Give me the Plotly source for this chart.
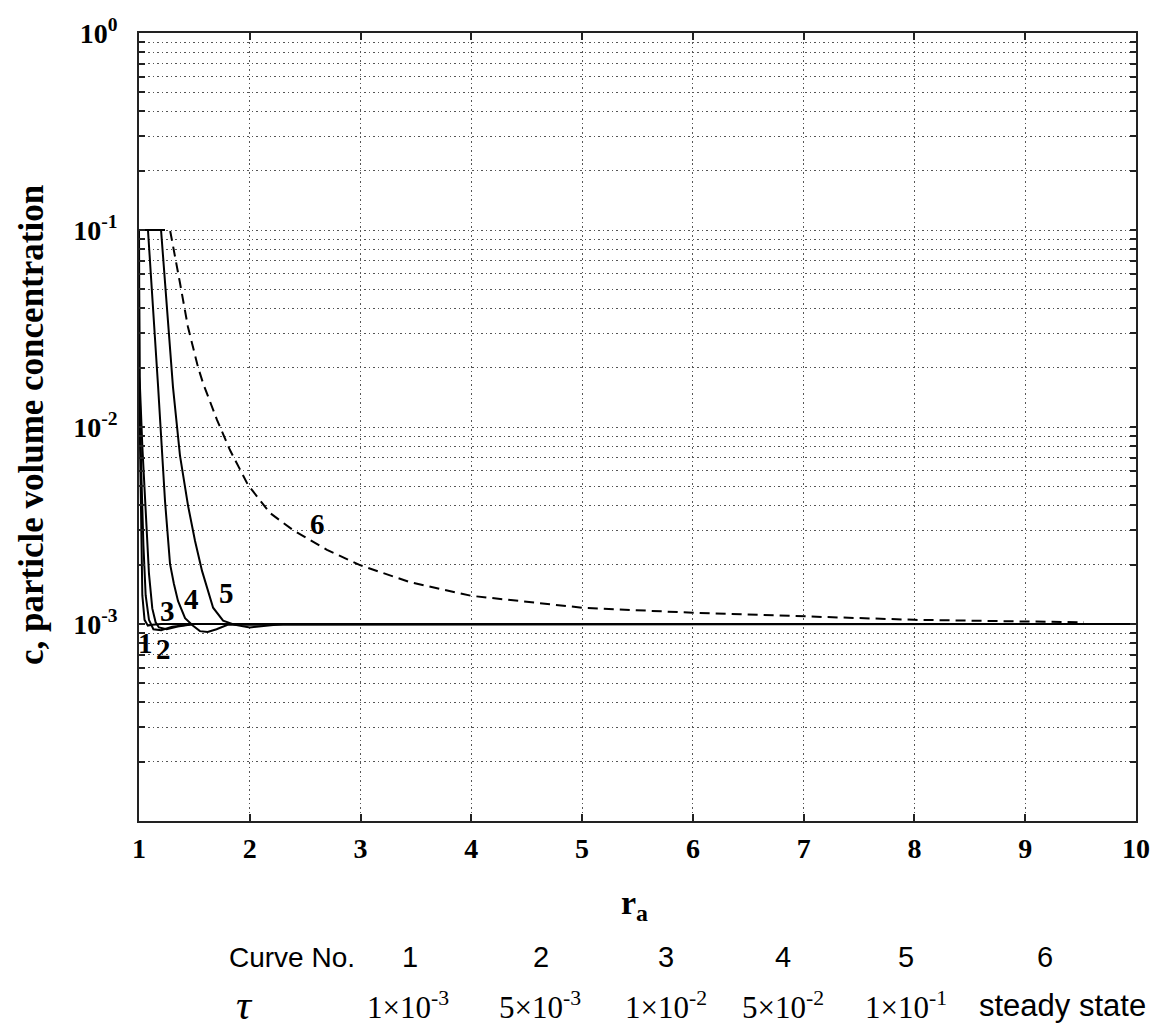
import plotly.graph_objects as go
import math

# ---- concentration profiles c(r_a) for the six cases ----
r1 = [1.0, 1.01, 1.02, 1.03, 1.05, 1.08, 1.12, 1.2, 10.0]
c1 = [0.018, 0.006, 0.0025, 0.0014, 0.00105, 0.00098, 0.00099, 0.001, 0.001]

r2 = [1.0, 1.005, 1.02, 1.04, 1.06, 1.09, 1.13, 1.2, 1.3, 1.5, 10.0]
c2 = [0.05, 0.018, 0.006, 0.0025, 0.0014, 0.00105, 0.00094, 0.00093, 0.00097, 0.001, 0.001]

r3 = [1.0, 1.005, 1.03, 1.06, 1.09, 1.12, 1.15, 1.18, 1.25, 1.35, 1.5, 10.0]
c3 = [0.1, 0.018, 0.008, 0.0035, 0.0018, 0.0012, 0.00102, 0.00096, 0.00094, 0.00097, 0.001, 0.001]

r4 = [1.0, 1.081, 1.172, 1.235, 1.28, 1.315, 1.352, 1.416, 1.488, 1.55, 1.62, 1.7, 1.8, 10.0]
c4 = [0.1, 0.1, 0.0162, 0.0042, 0.00202, 0.0016, 0.00131, 0.00107, 0.00098, 0.00092, 0.00091, 0.00094, 0.00099, 0.001]

r5 = [1.0, 1.199, 1.307, 1.37, 1.443, 1.506, 1.569, 1.669, 1.759, 1.867, 2.0, 2.3, 10.0]
c5 = [0.1, 0.1, 0.0159, 0.00716, 0.00398, 0.00264, 0.00186, 0.00121, 0.00104, 0.00099, 0.00096, 0.001, 0.001]

r6 = [1.0, 1.28, 1.37, 1.442, 1.532, 1.578, 1.704, 1.821, 1.984, 2.182, 2.39, 2.697,
      2.995, 3.446, 4.0, 4.5, 5.0, 6.0, 7.0, 8.0, 9.0, 9.53]
c6 = [0.1, 0.1, 0.0538, 0.0322, 0.0202, 0.0167, 0.01086, 0.00764, 0.00508, 0.00366, 0.0030,
      0.00238, 0.00199, 0.00163, 0.00139, 0.0013, 0.00121, 0.00114, 0.00109, 0.00105,
      0.00103, 0.00102]

curve_numbers = ["1", "2", "3", "4", "5", "6"]
tau_labels = ["1×10<sup>-3</sup>", "5×10<sup>-3</sup>", "1×10<sup>-2</sup>",
              "5×10<sup>-2</sup>", "1×10<sup>-1</sup>", "steady state"]

# curve number labels placed beside each profile (r_a, c)
label_r = [1.063, 1.217, 1.253, 1.470, 1.786, 2.608]
label_c = [8.0e-4, 7.46e-4, 1.17e-3, 1.34e-3, 1.44e-3, 3.23e-3]

x_ticks = [1, 2, 3, 4, 5, 6, 7, 8, 9, 10]
y_decades = [1e-3, 1e-2, 1e-1, 1e0]
y_decade_labels = ["10<sup>-3</sup>", "10<sup>-2</sup>", "10<sup>-1</sup>", "10<sup>0</sup>"]

# ---- figure geometry (pixels) ----
W, H = 1162, 1032
L, R, T, B = 139, 1136, 33, 821


def px_x(p):
    return (p - L) / (R - L)


def px_y(p):
    return (B - p) / (B - T)


fig = go.Figure()

profiles = [(r1, c1, "solid"), (r2, c2, "solid"), (r3, c3, "solid"),
            (r4, c4, "solid"), (r5, c5, "solid"), (r6, c6, "10px,6px")]
for r, c, dash in profiles:
    fig.add_trace(go.Scatter(x=r, y=c, mode="lines",
                             line=dict(color="black", width=2, dash=dash),
                             showlegend=False, hoverinfo="skip"))

# y ticks: every integer multiple within each decade, labels only on decades
ytickvals, yticktext = [], []
for e in range(-4, 0):
    for m in range(1, 10):
        v = m * 10.0 ** e
        ytickvals.append(v)
        lab = ""
        for d, t in zip(y_decades, y_decade_labels):
            if abs(v - d) < 1e-12:
                lab = t
        yticktext.append(lab)
ytickvals.append(1.0)
yticktext.append(y_decade_labels[-1])

serif_bold = dict(family="Liberation Serif, Times New Roman, serif", size=28,
                  color="black", weight="bold")

grid_style = dict(showgrid=True, gridcolor="#555555", gridwidth=1, griddash="1.5px,3px")

fig.update_xaxes(range=[1, 10], tickmode="array", tickvals=x_ticks,
                 ticktext=[str(v) for v in x_ticks],
                 ticks="inside", ticklen=7, tickwidth=1.5, tickcolor="#222",
                 showline=True, linecolor="#222", linewidth=1.5, mirror="ticks",
                 tickfont=serif_bold, ticklabelstandoff=2, zeroline=False,
                 **grid_style)
fig.update_yaxes(type="log", range=[-4, 0], tickmode="array",
                 tickvals=ytickvals, ticktext=yticktext,
                 ticks="inside", ticklen=6, tickwidth=1.5, tickcolor="#222",
                 showline=True, linecolor="#222", linewidth=1.5, mirror="ticks",
                 tickfont=serif_bold, ticklabelstandoff=14, zeroline=False,
                 **grid_style)

ann = []
# curve number labels (annotation y on a log axis is given in log10 units)
for t, xr, yc in zip(curve_numbers, label_r, label_c):
    ann.append(dict(x=xr, y=math.log10(yc), xref="x", yref="y", text=t,
                    showarrow=False, font=dict(family="Liberation Serif, serif",
                                               size=29, color="black", weight="bold")))

# axis titles
ann.append(dict(x=px_x(31), y=px_y(425), xref="paper", yref="paper",
                text="c, particle volume concentration", textangle=-90,
                showarrow=False, xanchor="center", yanchor="middle",
                font=dict(family="Liberation Serif, serif", size=35,
                          color="black", weight="bold")))
ann.append(dict(x=px_x(634), y=px_y(905), xref="paper", yref="paper",
                text="r<sub>a</sub>", showarrow=False, xanchor="center", yanchor="middle",
                font=dict(family="Liberation Serif, serif", size=34,
                          color="black", weight="bold")))

# table of curve numbers and dimensionless times below the axes
sans = "Liberation Sans, Arial, sans-serif"
col_px = [410, 541, 666, 783, 906, 1045]
tau_px = [408, 540, 666, 783, 906, 1062]
ann.append(dict(x=px_x(292), y=px_y(957), xref="paper", yref="paper", text="Curve No.",
                showarrow=False, xanchor="center", yanchor="middle",
                font=dict(family=sans, size=28, color="black")))
for t, p in zip(curve_numbers, col_px):
    ann.append(dict(x=px_x(p), y=px_y(957), xref="paper", yref="paper", text=t,
                    showarrow=False, xanchor="center", yanchor="middle",
                    font=dict(family=sans, size=29, color="black")))
ann.append(dict(x=px_x(244), y=px_y(1005), xref="paper", yref="paper", text="τ",
                showarrow=False, xanchor="center", yanchor="middle",
                font=dict(family="Liberation Serif, serif", size=42, color="black",
                          style="italic")))
for t, p in zip(tau_labels, tau_px):
    fam = sans if t == "steady state" else "Liberation Serif, serif"
    sz = 31 if t == "steady state" else 31
    ann.append(dict(x=px_x(p), y=px_y(1005), xref="paper", yref="paper", text=t,
                    showarrow=False, xanchor="center", yanchor="middle",
                    font=dict(family=fam, size=sz, color="black")))

fig.update_layout(width=W, height=H, margin=dict(l=L, r=W - R, t=T, b=H - B),
                  paper_bgcolor="white", plot_bgcolor="white",
                  annotations=ann, showlegend=False)

fig.write_html("out.html")
